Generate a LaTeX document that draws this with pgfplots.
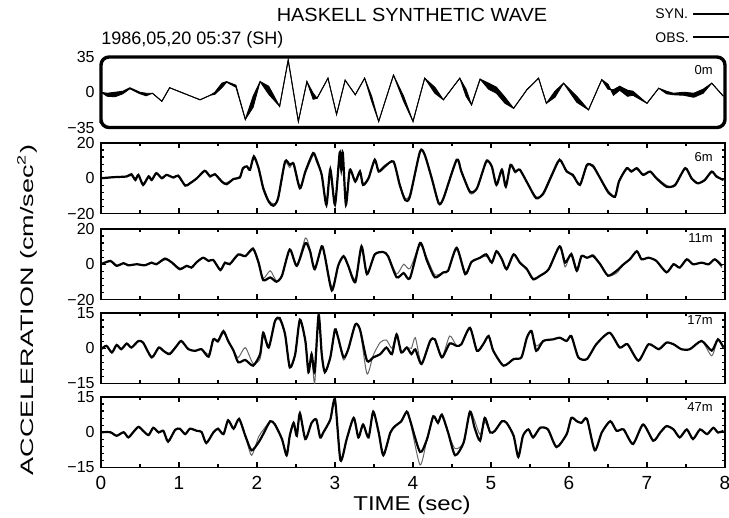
\documentclass[border=0pt]{standalone}
\usepackage{fontspec}
\setmainfont{Liberation Sans}
\usepackage{pgfplots}
\usepackage{pgfplotstable}
\pgfplotsset{compat=1.18}
\usepgfplotslibrary{fillbetween}

% 0m
\pgfplotstableread{
t syn obs
0.00 0 0
0.08 -1 -4
0.18 0 -4.5
0.28 1 -1.5
0.37 4.5 3.5
0.50 0 -1.5
0.58 -1 -3.5
0.66 -1 -1
0.78 -9 -9
0.88 4.5 4.5
1.27 -7.5 -7.5
1.40 -3 -3
1.46 0 -2
1.55 9 4.5
1.61 10.6 10
1.73 7 5
1.85 -27 -27
1.95 -4 -15
2.04 10.6 10.6
2.15 6 -2
2.29 -14 -14
2.40 32 32
2.53 -29 -29
2.64 10.6 10.6
2.72 -1 -7
2.77 -6 -6
2.91 14 14
3.02 -22 -22
3.13 12 12
3.26 -2.5 -2.5
3.38 14 14
3.47 -4 -9
3.56 -29 -29
3.75 17 17
3.88 -4 -9
4.00 -29 -29
4.15 14 14
4.28 5 -1
4.39 -7.5 -7.5
4.60 14 14
4.68 3 -4
4.75 -12.5 -12.5
4.86 13 13
4.97 9 3
5.07 5 -1
5.18 -5 -11
5.29 -16 -16
5.46 2.5 2.5
5.61 14 14
5.71 -11 -11
5.82 1 -5
5.93 9 9
6.10 -4 -10
6.25 -17.5 -17.5
6.42 12.5 12.5
6.50 3 8
6.57 2.5 -3
6.65 6 2
6.75 2 -4
6.82 1 -3
7.00 -11 -11
7.15 4 4
7.25 1 -1.5
7.34 -1 -2.5
7.47 0 -3
7.60 -1 -5
7.72 3 -1
7.83 9 9
7.98 -4 -4
}\wavezero

% 6m
\pgfplotstableread{
t obs syn
0.00 0 0
0.16 0.6 0.6
0.33 1 1
0.39 2.3 1.5
0.44 -1 0
0.48 1.9 1.9
0.54 -3.8 -3
0.61 1 1.5
0.65 -1 -0.5
0.71 2.9 2.5
0.78 0 0.5
0.84 1.9 1.9
0.93 0.4 0.4
0.99 1.5 1
1.08 -4.2 -3.8
1.14 -2.9 -2.5
1.23 0 0
1.33 4.2 4.5
1.40 1 1.5
1.46 2.3 2.3
1.55 -1.9 -2.5
1.61 -3.4 -2.5
1.70 -0.4 -0.4
1.78 0.4 1
1.82 5.7 5
1.87 6.7 7
1.91 4.8 5.5
1.96 12.4 11
2.02 5.7 6.5
2.08 -5.7 -4.5
2.15 -13.3 -12.5
2.21 -15.6 -14.5
2.27 -11.4 -12
2.36 9.5 8.5
2.42 7.6 6
2.47 8 9
2.55 -5.7 -4.5
2.62 3.8 3
2.72 14.3 13
2.77 9.5 11
2.83 1.9 1.9
2.89 -15.2 -14
2.94 5 4
3.00 -15 -15
3.06 14.5 13.5
3.08 5 5
3.10 14.5 14.5
3.14 -15 -14
3.19 4.8 4
3.26 -1.9 -1
3.32 3.8 4.5
3.36 -3.8 -3
3.43 0 0.5
3.51 10.5 10
3.56 3.8 4.5
3.64 6.7 7.5
3.75 9.5 9
3.83 -3.8 -3
3.90 -12.4 -11.5
3.96 -10.5 -9
4.09 15.2 14.5
4.15 13.3 13.8
4.24 0 0.5
4.33 -14.3 -13.5
4.39 -11.4 -12
4.56 10.5 10
4.62 3.8 4.5
4.73 -7.6 -8.6
4.82 -5.7 -6
4.94 9.5 10.5
5.01 6.7 6
5.07 -3.8 -3
5.14 4.8 5.5
5.19 -4.8 -4
5.25 7.6 7
5.31 3.8 3
5.37 4.8 5
5.48 -3.8 -4
5.58 -11.4 -10.5
5.67 -8.6 -9.5
5.78 1.9 1
5.88 10.5 10
5.97 3.8 4.5
6.05 1.9 1
6.14 -3.8 -3
6.23 7.6 7
6.31 6.7 7.6
6.40 0 0
6.50 -7.6 -8.6
6.59 -10.5 -10
6.64 -1.9 -1.5
6.74 5.7 5
6.80 3.8 4.5
6.87 5.7 5
6.95 1.9 2.5
7.04 3.8 3.8
7.12 0 0.5
7.25 -4.8 -4
7.36 -3.8 -4.5
7.49 5.7 6
7.57 0 0.5
7.65 -2.9 -2.5
7.74 -1 -1.5
7.83 3.8 3.5
7.89 1 1.5
7.98 -1 -1
}\wavesix

% 11m
\pgfplotstableread{
t obs syn
0.00 0 0
0.12 1.9 1.5
0.20 -0.9 -0.5
0.29 0.6 0.6
0.35 -0.6 -0.6
0.46 0 0
0.56 -0.6 -0.4
0.65 0.9 0.9
0.71 0 0
0.82 3.2 2.5
0.91 0.9 1.2
1.01 -2.8 -2.2
1.10 -0.9 -0.9
1.16 -1.9 -1.5
1.23 1.3 1.3
1.31 3.7 3.5
1.38 1.9 1.9
1.44 2.4 2.4
1.53 -3.2 -3.8
1.59 0.9 0.9
1.65 0 0.5
1.76 5.6 5
1.85 4.6 4.6
1.95 8.7 9.5
2.02 0.9 1.5
2.08 -9 -8
2.17 -7.5 -3.7
2.25 -9.9 -9.5
2.32 -6.5 -6.5
2.42 8.4 8.4
2.51 -0.9 -0.9
2.62 12 14.9
2.68 7.4 8.5
2.74 -2.8 -2.8
2.83 10.2 10.2
2.87 4.6 4.6
2.96 -14.9 -13
3.04 -0.9 -0.9
3.11 4.6 4.6
3.17 -0.9 -0.9
3.26 -10.2 -8.5
3.34 10.2 9.5
3.41 -5.6 -5.6
3.51 5.6 5.6
3.62 6.9 6.9
3.68 4.6 4.6
3.79 -7.4 -5.5
3.88 -5 0
3.96 -8 -2.5
4.09 12.1 11
4.18 1.9 3.5
4.28 -7.4 -6
4.39 -4.6 -4.6
4.45 -3.7 -3.7
4.56 9.3 9.3
4.67 -5.6 -4.5
4.75 1.3 1.3
4.86 3.7 3.7
4.94 5.6 4.5
5.01 0.9 1.5
5.07 7.4 7.4
5.14 2.8 2.8
5.20 -2.8 -2.8
5.29 5.6 5.6
5.37 0.9 0.9
5.46 -2.8 -2.8
5.54 -8.4 -9
5.63 -6.5 -6.5
5.74 -2.8 -2.8
5.88 10.2 10.2
5.95 0.9 -1.5
6.03 5.6 6.5
6.10 -3.7 -2.5
6.16 4.6 4.6
6.23 3.7 3.7
6.31 4.6 5.5
6.40 0 0
6.50 -6.5 -6.5
6.61 -3.7 -5
6.70 0 0
6.78 2.8 2.8
6.87 7.4 7.4
6.93 2.8 2.8
7.02 3.7 3.7
7.12 1.9 1.9
7.25 -4.6 -4.6
7.34 0 0
7.42 -1.9 -1.9
7.51 2.8 2.8
7.59 0 0
7.70 0.9 0.9
7.79 0 0
7.87 2.8 2.8
7.96 -0.9 -2
}\waveeleven

% 17m
\pgfplotstableread{
t obs syn
0.00 -0.4 0
0.07 1 1
0.14 -1.8 -1.5
0.20 1.4 1
0.26 -0.4 -0.4
0.33 2 2
0.39 0.3 0.3
0.48 3.1 3.1
0.54 2.4 2.4
0.65 -3.9 -3.5
0.74 0.3 0.3
0.80 -1.1 -1.1
0.88 -2.5 -2
0.97 1 1
1.03 3.1 3.1
1.12 -0.4 -0.4
1.21 -1.1 -1.1
1.29 -0.4 -0.4
1.38 -3.6 -2.5
1.44 3.8 3.8
1.50 3.1 2.5
1.57 7.3 6.5
1.63 3.1 3.1
1.70 -1.1 -1.1
1.76 -6 -4
1.85 -5 0.3
1.95 -7.4 -6.5
2.04 -2.5 -4.5
2.08 6.6 5
2.15 0.3 0.3
2.23 11.5 11.5
2.29 12.9 12
2.36 5.9 5.9
2.42 -8.1 -8.5
2.49 -2.5 -2.5
2.55 12.2 12.2
2.62 3.1 3.1
2.66 -10.2 -10.2
2.70 -2.5 -2.5
2.74 -10 -15
2.79 14.3 14.3
2.83 -2.5 -2.5
2.87 -10.2 -10.2
2.94 -3.9 -3.9
3.00 8 8
3.04 4.5 4.5
3.11 -3.9 -5
3.17 -0.4 -0.4
3.26 10.1 10.1
3.32 8 8
3.41 -5.3 -10.9
3.49 -3.9 -3
3.58 -2.5 2.5
3.66 0.3 3.5
3.73 -2.5 0
3.79 5.9 5.9
3.85 -1.8 -1.8
3.92 0.3 0.3
3.98 -2.5 0
4.03 -0.5 4.5
4.11 -6.7 -6.7
4.22 3.1 3.1
4.28 3.8 3.8
4.37 -3.9 -3.9
4.47 2 5.2
4.56 1 1
4.62 1.7 1.7
4.73 8.7 8.7
4.82 -1.1 -1.1
4.90 1.7 1.7
4.97 5.2 5.2
5.03 -1.1 -1.1
5.16 -7.4 -7.4
5.29 -4.6 -4.6
5.39 -3.9 -3.9
5.46 4.5 4.5
5.52 7.3 7.3
5.58 -1.1 1
5.67 3.1 3.1
5.80 3.8 3.8
5.88 4.5 4.5
5.97 3.1 3.1
6.03 5.2 5.2
6.12 -3.9 -3.9
6.23 -4.6 -4.6
6.35 1.7 1.7
6.52 6.6 6.6
6.65 0.3 0.3
6.75 1.7 1.7
6.89 -5.3 -5.3
7.02 1.7 1.7
7.15 -0.4 -0.4
7.25 2.4 2.4
7.34 1.7 1.7
7.44 -0.4 -0.4
7.55 -0.4 -0.4
7.70 3.1 3.1
7.83 -1 -3.2
7.91 3.8 3.8
7.98 0.3 0.3
}\waveseventeen

% 47m
\pgfplotstableread{
t obs syn
0.00 0 0
0.12 0 0
0.20 -1.5 -1.5
0.29 0 0
0.35 -2.2 -2.2
0.41 -0.1 -0.1
0.48 2.3 2.3
0.54 0.6 0.6
0.61 -1.2 -1.2
0.67 1.9 1.9
0.74 -0.1 -0.1
0.80 0.6 0.6
0.86 -4 -4
0.95 1 1
1.01 1.5 1.5
1.08 -0.8 -0.8
1.14 1.5 1.5
1.23 0.6 0.6
1.29 0.1 0.1
1.35 -4.6 -4.6
1.44 -0.1 -0.1
1.50 1.5 1.5
1.57 -0.8 -0.8
1.63 5.1 5.1
1.70 1.5 1.5
1.77 5.7 5.7
1.85 -1.5 -1.5
1.93 -7.7 -9.8
2.02 -4.3 -2
2.08 -0.8 1
2.17 4.7 4.7
2.23 3.3 3.3
2.32 -2.9 -2.9
2.38 -9.8 -9.8
2.42 -1.5 -1.5
2.47 4.0 4.0
2.51 -1.5 -1.5
2.55 8.1 8.1
2.62 -2.9 -2.9
2.70 4.0 4.0
2.76 5.4 5.4
2.81 -2.2 -2.2
2.85 -0.1 -0.1
2.94 5.4 5.4
3.00 13.9 13.9
3.07 -11.9 -11.9
3.15 -2.9 -2.9
3.24 6.1 6.1
3.30 -2.2 -2.2
3.36 3.3 3.3
3.43 -2.2 -2.2
3.49 8.8 8.8
3.56 -0.1 -0.1
3.62 -9.8 -9.8
3.71 -0.1 -0.1
3.77 2.6 2.6
3.85 4.7 4.7
3.92 8.8 8.8
3.96 5.4 5.4
4.09 -8.4 -13.9
4.18 -2.9 -2.9
4.26 6.8 6.8
4.32 4.0 4.0
4.37 7.5 7.5
4.45 -0.1 -0.1
4.54 -9.8 -7
4.65 -4.3 -4.3
4.73 8.8 8.8
4.79 1.9 5
4.86 -3.6 -1
4.92 6.1 4.5
4.99 -0.1 -0.1
5.05 0.6 0.6
5.14 4.7 4.7
5.20 4.0 4.0
5.29 -1.5 -1.5
5.35 -10.5 -10.5
5.41 -1.5 -1.5
5.48 1.2 1.2
5.54 -2.2 -2.2
5.63 1.9 1.9
5.73 1.2 1.2
5.84 -6.3 -6.3
5.97 -0.8 -0.8
6.03 6.1 6.1
6.10 4.7 4.7
6.16 4.0 4.0
6.23 5.7 5.7
6.33 -7.7 -7.7
6.42 -0.1 -0.1
6.53 4.7 4.7
6.61 0.6 0.6
6.70 1.2 1.2
6.82 -5 -5
6.95 3.3 3.3
7.08 -3.6 -3.6
7.17 -0.1 -0.1
7.25 2.6 2.6
7.34 1.2 1.2
7.42 -2.2 -2.2
7.51 1.2 1.2
7.59 -2.9 -2.9
7.68 1.2 1.2
7.77 -0.8 -0.8
7.85 1.9 1.9
7.91 -0.1 -0.1
7.98 0.6 0.6
}\wavefortyseven

\pgfplotsset{
  seis/.style={
    scale only axis, width=312pt, height=35.25pt,
    anchor=north west,
    xmin=0, xmax=8,
    xtick={0,1,2,3,4,5,6,7,8}, minor x tick num=1,
    xticklabels={},
    tick align=inside,
    major tick length=2.5pt, minor tick length=1.6pt,
    axis line style={line width=0.9pt},
    every tick/.style={black, line width=0.6pt},
    every tick label/.append style={font=\fontsize{8}{9}\selectfont},
    yticklabel style={inner sep=0pt, xshift=-3pt},
  },
  obsline/.style={black, line width=1.1pt, smooth, tension=0.4},
  synline/.style={black!60, line width=0.5pt, smooth, tension=0.4},
}

\begin{document}
\begin{tikzpicture}

% 0m
\begin{axis}[seis, at={(0pt,-28.5pt)},
  ymin=-35, ymax=35, ytick={-35,0,35}, yticklabels={−35,0,35},
  minor x tick num=0, every tick/.style={draw=none},
  axis line style={line width=1.7pt, rounded corners=4pt}, clip=false]
\addplot[black, line width=0.45pt, name path=syn0] table[x=t, y=syn] {\wavezero};
\addplot[black, line width=0.45pt, name path=obs0] table[x=t, y=obs] {\wavezero};
\addplot[black] fill between[of=syn0 and obs0];
\end{axis}

% 6m
\begin{axis}[seis, at={(0pt,-71.5pt)},
  ymin=-20, ymax=20, ytick={-20,0,20}, yticklabels={−20,0,20}, minor y tick num=4]
\addplot[synline] table[x=t, y=syn] {\wavesix};
\addplot[obsline] table[x=t, y=obs] {\wavesix};
\end{axis}

% 11m
\begin{axis}[seis, at={(0pt,-114.5pt)},
  ymin=-20, ymax=20, ytick={-20,0,20}, yticklabels={−20,0,20}, minor y tick num=4]
\addplot[synline] table[x=t, y=syn] {\waveeleven};
\addplot[obsline] table[x=t, y=obs] {\waveeleven};
\end{axis}

% 17m
\begin{axis}[seis, at={(0pt,-156.5pt)},
  ymin=-15, ymax=15, ytick={-15,0,15}, yticklabels={−15,0,15}, minor y tick num=4]
\addplot[synline] table[x=t, y=syn] {\waveseventeen};
\addplot[obsline] table[x=t, y=obs] {\waveseventeen};
\end{axis}

% 47m
\begin{axis}[seis, at={(0pt,-198.5pt)},
  ymin=-15, ymax=15, ytick={-15,0,15}, yticklabels={−15,0,15}, minor y tick num=4,
  xticklabels={0,1,2,3,4,5,6,7,8},
  xticklabel style={font=\fontsize{9.5}{11}\selectfont, yshift=-1pt}]
\addplot[synline] table[x=t, y=syn] {\wavefortyseven};
\addplot[obsline] table[x=t, y=obs] {\wavefortyseven};
\end{axis}

% texts
\node[font=\fontsize{9.5}{11}\selectfont] at (155.5pt,-7.5pt) {\scalebox{1.05}[1]{HASKELL SYNTHETIC WAVE}};
\node[anchor=west, inner sep=0pt, font=\fontsize{9}{10}\selectfont] at (0pt,-20pt) {1986,05,20 05:37 (SH)};
\node[anchor=west, inner sep=0pt, font=\fontsize{7}{8}\selectfont] at (277pt,-7pt) {SYN.};
\node[anchor=west, inner sep=0pt, font=\fontsize{7}{8}\selectfont] at (277pt,-19pt) {OBS.};
\draw[black, line width=0.6pt] (296pt,-7pt) -- (314pt,-7pt);
\draw[black, line width=0.6pt] (296pt,-18.5pt) -- (314pt,-18.5pt);
\foreach \lab/\yy in {0m/-35, 6m/-78.5, 11m/-119, 17m/-160, 47m/-203.5}
  \node[anchor=east, inner sep=0pt, font=\fontsize{6.5}{8}\selectfont] at (306pt,\yy pt) {\lab};
\node[rotate=90, font=\fontsize{9}{11}\selectfont] at (-37pt,-155pt)
  {\scalebox{1.5}[1]{ACCELERATION (cm/sec\textsuperscript{2})}};
\node[font=\fontsize{10}{12}\selectfont] at (155.5pt,-252.5pt) {\scalebox{1.2}[1]{TIME (sec)}};

\pgfresetboundingbox
\path[use as bounding box] (-50.5pt,0pt) rectangle (314pt,-259pt);
\end{tikzpicture}
\end{document}
